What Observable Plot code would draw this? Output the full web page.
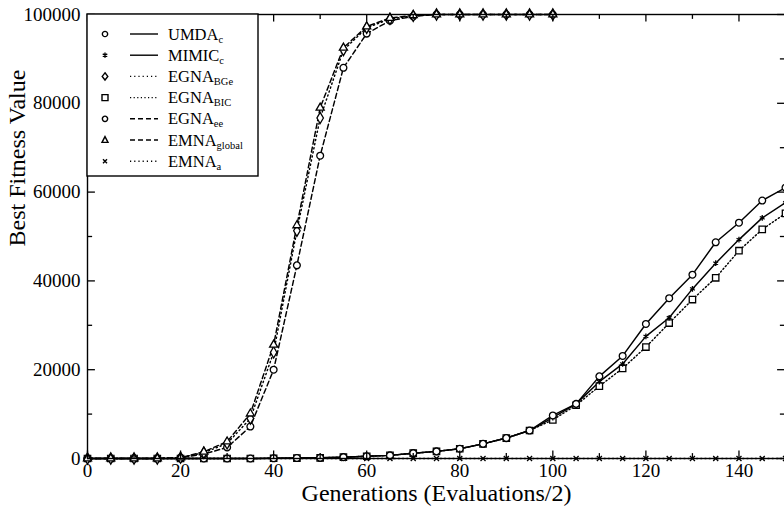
<!DOCTYPE html>
<html><head><meta charset="utf-8">
<script src="https://cdn.jsdelivr.net/npm/d3@7"></script>
<script src="https://cdn.jsdelivr.net/npm/@observablehq/plot@0.6"></script>
<style>body{margin:0;background:#fff} svg{display:block}</style>
</head><body><div id="chart"></div>
<script>
// ---- data ----
const generations = [0,5,10,15,20,25,30,35,40,45,50,55,60,65,70,75,80,85,90,95,100,105,110,115,120,125,130,135,140,145,150];
const umdaC      = [0,0,0,0,0,0,0,0,50,100,150,300,500,700,1200,1600,2200,3300,4600,6300,9700,12300,18500,23100,30300,36100,41400,48700,53100,58100,61000];
const mimicC     = [0,0,0,0,0,0,0,0,50,100,150,300,500,700,1200,1600,2200,3300,4600,6300,9200,12300,17300,21300,27500,31700,38200,44000,49300,54200,57600];
const egnaBIC    = [0,0,0,0,0,0,0,0,50,100,150,300,500,700,1200,1600,2200,3300,4600,6300,8700,12000,16300,20300,25100,30500,35800,40700,46800,51600,55200];
const egnaBGe    = [0,0,0,0,200,1300,3400,9000,23900,51300,76700,92000,97000,99000,99700,100000,100000,100000,100000,100000,100000];
const egnaEe     = [0,0,0,0,150,1000,2500,7200,20000,43500,68200,88000,95700,98600,99600,100000,100000,100000,100000,100000,100000];
const emnaGlobal = [0,0,0,0,200,1500,3800,10100,25600,52500,79000,92500,97300,99200,99800,100000,100000,100000,100000,100000,100000];
const emnaA      = generations.map(() => 0);

const xTickLabels = [0,20,40,60,80,100,120,140];
const xMinorTicks = [10,30,50,70,90,110,130];
const yTickLabels = [0,20000,40000,60000,80000,100000];
const yMinorTicks = [10000,30000,50000,70000,90000];

const seriesList = [
  {key:"EMNA_a",      main:"EMNA", sub:"a",      values:emnaA,      symbol:"times",    r:2.4, dash:"1.2,3"},
  {key:"EGNA_BIC",    main:"EGNA", sub:"BIC",    values:egnaBIC,    symbol:"square",   r:3.6, dash:"1.2,2.4"},
  {key:"MIMIC_c",     main:"MIMIC",sub:"c",      values:mimicC,     symbol:"asterisk", r:2.6, dash:null},
  {key:"UMDA_c",      main:"UMDA", sub:"c",      values:umdaC,      symbol:"circle",   r:3.4, dash:null},
  {key:"EGNA_ee",     main:"EGNA", sub:"ee",     values:egnaEe,     symbol:"circle",   r:3.4, dash:"5,3"},
  {key:"EGNA_BGe",    main:"EGNA", sub:"BGe",    values:egnaBGe,    symbol:"diamond",  r:3.4, dash:"1.2,3"},
  {key:"EMNA_global", main:"EMNA", sub:"global", values:emnaGlobal, symbol:"triangle", r:3.0, dash:"5,3"}
];
const legendOrder = ["UMDA_c","MIMIC_c","EGNA_BGe","EGNA_BIC","EGNA_ee","EMNA_global","EMNA_a"];

const FONT = "Liberation Serif";
const rowsOf = s => s.values.map((v,i) => ({gen: generations[i], value: v}));

const lineMarks = seriesList.map(s => Plot.line(rowsOf(s), {x:"gen", y:"value", stroke:"black", strokeWidth:1.45, strokeDasharray: s.dash}));
const dotMarks = seriesList.map(s => Plot.dot(rowsOf(s), {x:"gen", y:"value", symbol:()=>s.symbol, r:s.r,
  stroke:"black", strokeWidth:1.3, fill: (s.symbol==="asterisk"||s.symbol==="times") ? "none" : "white"}));

const tk = {stroke:"black", strokeWidth:1.3};
const chart = Plot.plot({
  width: 784, height: 513,
  marginLeft: 87, marginRight: -1, marginTop: 14, marginBottom: 55,
  style: {fontFamily: FONT, background: "white", color: "black"},
  x: {domain: [0,150]},
  y: {domain: [0,100000]},
  symbol: {type: "identity"},
  marks: [
    ...lineMarks,
    ...dotMarks,
    Plot.frame({stroke:"black", strokeWidth:1.4}),
    Plot.ruleY(yTickLabels, {x1:0, x2:1.7, ...tk}),
    Plot.ruleY(yMinorTicks, {x1:0, x2:1.1, ...tk}),
    Plot.ruleY(yTickLabels, {x1:150-1.7, x2:150, ...tk}),
    Plot.ruleY(yMinorTicks, {x1:150-1.1, x2:150, ...tk}),
    Plot.ruleX(xTickLabels, {y1:0, y2:1700, ...tk}),
    Plot.ruleX(xMinorTicks, {y1:0, y2:1100, ...tk}),
    Plot.ruleX(xTickLabels, {y1:100000-1700, y2:100000, ...tk}),
    Plot.ruleX(xMinorTicks, {y1:100000-1100, y2:100000, ...tk}),
    Plot.axisX(xTickLabels, {tickSize:0, tickPadding:5, fontSize:19, fontFamily:FONT, label:null, tickFormat:d=>String(d)}),
    Plot.axisY(yTickLabels, {tickSize:0, tickPadding:7, fontSize:19, fontFamily:FONT, label:null, tickFormat:d=>String(d)}),
    Plot.text(["Generations (Evaluations/2)"], {frameAnchor:"bottom", dy:42, fontSize:24, fontFamily:FONT}),
    Plot.text(["Best Fitness Value"], {frameAnchor:"left", dx:-70, dy:10, rotate:-90, fontSize:24, fontFamily:FONT})
  ]
});
document.getElementById("chart").appendChild(chart);

// ---- legend ----
const svg = d3.select(chart);
const lg = svg.append("g").attr("font-family", FONT).attr("text-anchor","start");
lg.append("rect").attr("x",87).attr("y",14).attr("width",171).attr("height",162)
  .attr("fill","white").attr("stroke","black").attr("stroke-width",1.4);
const symPath = {
  circle: d3.symbol(d3.symbolCircle, 22)(),
  diamond: "M0,-3.6L2.8,0L0,3.6L-2.8,0Z",
  square: "M-3,-3H3V3H-3Z",
  triangle: "M0,-3.4L3,2.4H-3Z",
  asterisk: "M0,-2.6V2.6M-2.3,-1.3L2.3,1.3M-2.3,1.3L2.3,-1.3",
  times: "M-2,-2L2,2M-2,2L2,-2"
};
legendOrder.forEach((k,i) => {
  const s = seriesList.find(d => d.key === k);
  const y = 34 + i*21.2;
  lg.append("path").attr("d", symPath[s.symbol]).attr("transform",`translate(105,${y})`)
    .attr("fill", (s.symbol==="asterisk"||s.symbol==="times") ? "none":"white").attr("stroke","black").attr("stroke-width",1.4);
  lg.append("line").attr("x1",130).attr("x2",158).attr("y1",y).attr("y2",y)
    .attr("stroke","black").attr("stroke-width",1.4).attr("stroke-dasharray", s.dash);
  const t = lg.append("text").attr("x",168).attr("y",y+5.5).attr("font-size",16.5).attr("text-anchor","start");
  t.append("tspan").text(s.main);
  t.append("tspan").attr("font-size",10.5).attr("dy",3).text(s.sub);
});
</script>
</body></html>
